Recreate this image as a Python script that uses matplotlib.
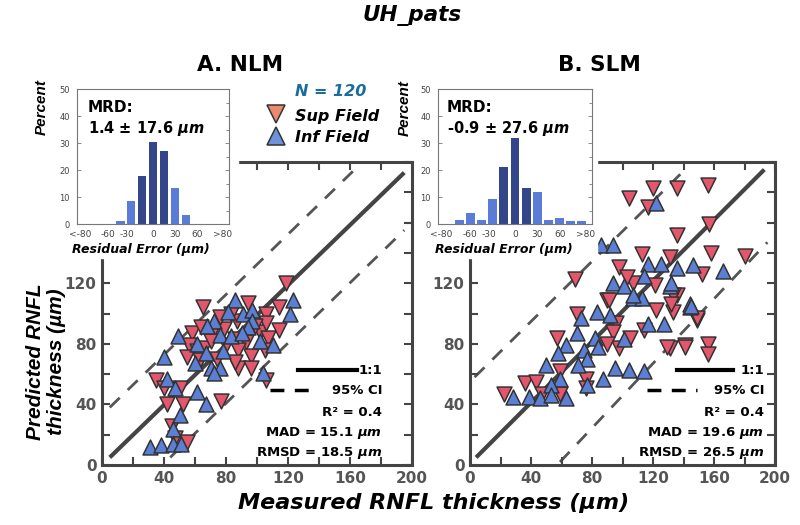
import matplotlib
matplotlib.use("Agg")
import matplotlib.pyplot as plt
from matplotlib.patches import Rectangle
from matplotlib.lines import Line2D

plt.rcParams['font.family'] = 'DejaVu Sans'
plt.rcParams['mathtext.fontset'] = 'custom'
plt.rcParams['mathtext.it'] = 'DejaVu Sans:italic:bold'
plt.rcParams['mathtext.rm'] = 'DejaVu Sans:bold'

# ---- panel A (NLM) scatter ----
sup_a_x = [119, 65, 94, 106, 114, 58, 64, 71, 79, 86, 93, 102, 107, 114, 106, 76, 87,
           56, 61, 55, 66, 80, 88, 96, 105, 63, 74, 88, 96, 35, 40, 50, 42, 52, 77,
           45, 47, 55, 106, 86, 70, 99, 83]
sup_a_y = [120, 104, 107, 100, 104, 87, 91, 87, 90, 83, 81, 88, 84, 89, 94, 98, 95,
           79, 75, 71, 77, 79, 76, 72, 76, 69, 70, 64, 64, 56, 51, 51, 40, 40, 42,
           26, 18, 15, 56, 68, 82, 92, 100]
inf_a_x = [86, 123, 121, 81, 91, 97, 72, 97, 49, 76, 94, 110, 61, 78, 40, 60, 70, 76,
           72, 104, 42, 47, 61, 67, 50, 46, 31, 38, 46, 51, 67, 83, 102, 90, 68]
inf_a_y = [109, 109, 100, 101, 100, 102, 95, 95, 85, 86, 91, 79, 80, 75, 71, 67, 64, 64,
           61, 61, 57, 51, 48, 40, 33, 24, 12, 13, 14, 14, 74, 85, 82, 87, 92]

# ---- panel B (SLM) scatter ----
sup_b_x = [90, 70, 96, 122, 133, 149, 57, 94, 105, 114, 98, 90, 131, 141, 59, 36, 43,
           22, 59, 76, 76, 47, 104, 120, 136, 117, 136, 69, 113, 98, 131, 107, 121, 136,
           91, 103, 152, 129, 141, 156, 156, 149, 133, 132, 156, 157, 158, 180]
sup_b_y = [109, 100, 94, 102, 101, 96, 84, 88, 84, 89, 77, 80, 77, 79, 62, 54, 55,
           47, 47, 57, 51, 47, 176, 183, 183, 170, 152, 123, 139, 131, 137, 120, 119, 112,
           109, 124, 126, 78, 78, 80, 73, 97, 112, 106, 185, 159, 140, 138]
inf_b_x = [107, 83, 73, 92, 117, 144, 70, 82, 84, 75, 63, 58, 77, 50, 71, 59, 53, 87,
           95, 104, 114, 28, 39, 46, 53, 63, 101, 77, 122, 86, 94, 117, 125, 136, 146,
           94, 114, 101, 131, 113, 144, 107, 145, 132, 127, 166]
inf_b_y = [110, 101, 97, 99, 93, 104, 87, 84, 78, 76, 79, 74, 70, 66, 66, 57, 53, 57,
           64, 63, 62, 45, 45, 44, 46, 44, 83, 53, 173, 145, 145, 133, 133, 130, 132,
           120, 125, 118, 118, 110, 106, 112, 105, 120, 93, 128]

# reference lines (1:1 and 95% CI ends)
one_a = ([5, 195], [5, 193])
ci_up_a = ([5, 162], [38, 194])
ci_lo_a = ([44, 195], [5, 155])
one_b = ([4, 193], [5, 195])
ci_up_b = ([3, 139], [58, 193])
ci_lo_b = ([59, 195], [2, 147])

main_ticks = [0, 40, 80, 120, 160, 200]
main_ylabels = ['0', '40', '80', '120', '', '']

# ---- residual histograms ----
bins = [-90, -75, -60, -45, -30, -15, 0, 15, 30, 45, 60, 75, 90]
pct_a = [0, 0, 0, 1, 8.5, 17.7, 30.3, 27, 13.5, 3.5, 0, 0, 0]
pct_b = [0, 1.5, 4.2, 1.5, 9.2, 21, 32, 13.3, 11.7, 1.5, 2.3, 1, 1]
hist_ticks = [-100, -61, -35, 0, 30, 61, 95]
hist_labels = ['<-80', '-60', '-30', '0', '30', '60', '>80']

red = '#e4566c'
blue = '#5a7fd4'
dark_bar = '#34468a'
light_bar = '#5b7bd9'
W, H = 800, 525

fig = plt.figure(figsize=(8, 5.25), dpi=100)


def fx(px):
    return px / W


def fy(py):
    return 1 - py / H


def main_panel(rect, sx, sy, ix, iy, lines):
    ax = fig.add_axes(rect)
    ax.plot(*lines[0], color='#444', lw=3, solid_capstyle='butt', zorder=1)
    for ln in lines[1:]:
        ax.plot(*ln, color='#555', lw=2, dashes=(5, 4), zorder=1)
    ax.scatter(sx, sy, marker='v', s=115, color=red, edgecolor='#333', linewidth=1.1, zorder=3)
    ax.scatter(ix, iy, marker='^', s=115, color=blue, edgecolor='#333', linewidth=1.1, zorder=3)
    ax.set_xlim(0, 200)
    ax.set_ylim(0, 200)
    ax.set_xticks(main_ticks)
    ax.set_yticks(main_ticks)
    ax.set_yticklabels(main_ylabels)
    ax.set_xticks(range(0, 201, 20), minor=True)
    ax.set_yticks(range(0, 201, 20), minor=True)
    ax.tick_params(which='both', direction='in', top=True, right=True, length=6,
                   width=1.5, color='#444', labelsize=11, labelcolor='#555', pad=4)
    for lbl in ax.get_xticklabels() + ax.get_yticklabels():
        lbl.set_fontweight('bold')
    for sp in ax.spines.values():
        sp.set_linewidth(2.2)
        sp.set_color('#444')
    return ax


axA = main_panel([fx(102), 60 / H, 310 / W, 303 / H], sup_a_x, sup_a_y, inf_a_x, inf_a_y,
                 [one_a, ci_up_a, ci_lo_a])
axB = main_panel([fx(470), 60 / H, 305 / W, 303 / H], sup_b_x, sup_b_y, inf_b_x, inf_b_y,
                 [one_b, ci_up_b, ci_lo_b])

# white blocks where the histograms sit over the corner of each panel
fig.add_artist(Rectangle((0, fy(258)), fx(238), 258 / H, transform=fig.transFigure,
                         color='white', zorder=1))
fig.add_artist(Rectangle((fx(415), fy(258)), fx(597) - fx(415), 258 / H,
                         transform=fig.transFigure, color='white', zorder=1))


def inset(left, right, pct):
    ax = fig.add_axes([fx(left), fy(224), (right - left) / W, 135 / H], zorder=3)
    cols = [dark_bar if abs(b) < 20 else light_bar for b in bins]
    ax.bar(bins, pct, width=12, color=cols)
    ax.set_xlim(-104, 104)
    ax.set_ylim(0, 50)
    ax.set_yticks(range(0, 51, 10))
    ax.set_yticks(range(0, 51, 5), minor=True)
    ax.set_xticks(hist_ticks)
    ax.set_xticklabels(hist_labels)
    ax.tick_params(axis='y', which='major', direction='in', left=True, right=True,
                   length=3, width=0.6, color='#777', labelsize=6, labelcolor='#444', pad=5)
    ax.tick_params(axis='y', which='minor', direction='in', left=False, right=True,
                   length=2, width=0.6, color='#777')
    ax.tick_params(axis='x', length=0, labelsize=6.5, labelcolor='#444', pad=4)
    for sp in ax.spines.values():
        sp.set_linewidth(0.8)
        sp.set_color('#777')
    return ax


insA = inset(77, 229, pct_a)
insB = inset(438, 592, pct_b)

# texts
bi = dict(fontweight='bold', style='italic')
fig.text(fx(412), fy(16), 'UH_pats', ha='center', va='center', fontsize=15.5, **bi)
fig.text(fx(240), fy(65), 'A. NLM', ha='center', va='center', fontsize=15.5, fontweight='bold')
fig.text(fx(599), fy(65), 'B. SLM', ha='center', va='center', fontsize=15.5, fontweight='bold')
fig.text(fx(331), fy(91), 'N = 120', ha='center', va='center', fontsize=11.5, color='#1a6e9e', **bi)
fig.text(fx(295), fy(116), 'Sup Field', ha='left', va='center', fontsize=11.5, **bi)
fig.text(fx(295), fy(137), 'Inf Field', ha='left', va='center', fontsize=11.5, **bi)
fig.add_artist(Line2D([fx(276)], [fy(114)], marker='v', markersize=13, color='#ec8a70',
                      markeredgecolor='#333', markeredgewidth=1.1, transform=fig.transFigure))
fig.add_artist(Line2D([fx(276)], [fy(136)], marker='^', markersize=13, color='#6d93dc',
                      markeredgecolor='#333', markeredgewidth=1.1, transform=fig.transFigure))

for px, lab in [(88, '1.4 ± 17.6 $\\mathit{µm}$'), (447, '-0.9 ± 27.6 $\\mathit{µm}$')]:
    fig.text(fx(px), fy(108), 'MRD:', ha='left', va='center', fontsize=11,
             fontweight='bold', zorder=4)
    fig.text(fx(px), fy(128), lab, ha='left', va='center', fontsize=10.5,
             fontweight='bold', zorder=4)

for px, py in [(42, 107), (405, 108)]:
    fig.text(fx(px), fy(py), 'Percent', rotation=90, ha='center', va='center',
             fontsize=11, family='Liberation Sans', zorder=4, **bi)
for px in (141, 504):
    fig.text(fx(px), fy(249), 'Residual Error (µm)', ha='center', va='center',
             fontsize=9, zorder=4, **bi)

fig.text(fx(46), fy(362), 'Predicted RNFL\nthickness (µm)', rotation=90, ha='center',
         va='center', fontsize=15, family='Liberation Sans', linespacing=1.15, **bi)
fig.text(fx(434), fy(503), 'Measured RNFL thickness (µm)', ha='center', va='center',
         fontsize=16, **bi)

# 1:1 / CI keys and fit stats
stats = {
    'A': dict(right=382, solid=(298, 357), dash=(270, 318),
              lines=['1:1', '95% CI', 'R² = 0.4', 'MAD = 15.1 $\\mathit{µm}$',
                     'RMSD = 18.5 $\\mathit{µm}$']),
    'B': dict(right=764, solid=(677, 733), dash=(647, 697),
              lines=['1:1', '95% CI', 'R² = 0.4', 'MAD = 19.6 $\\mathit{µm}$',
                     'RMSD = 26.5 $\\mathit{µm}$']),
}
rows_y = [370, 391, 412, 433, 453]
for key, st in stats.items():
    fig.add_artist(Line2D([fx(st['solid'][0]), fx(st['solid'][1])], [fy(370), fy(370)],
                          color='black', lw=3, transform=fig.transFigure))
    fig.add_artist(Line2D([fx(st['dash'][0]), fx(st['dash'][1])], [fy(390), fy(390)],
                          color='black', lw=2.5, dashes=(4, 3), transform=fig.transFigure))
    for y, txt in zip(rows_y, st['lines']):
        fig.text(fx(st['right']), fy(y), txt, ha='right', va='center', fontsize=9.5,
                 fontweight='bold')

fig.savefig('out.png', dpi=100)
